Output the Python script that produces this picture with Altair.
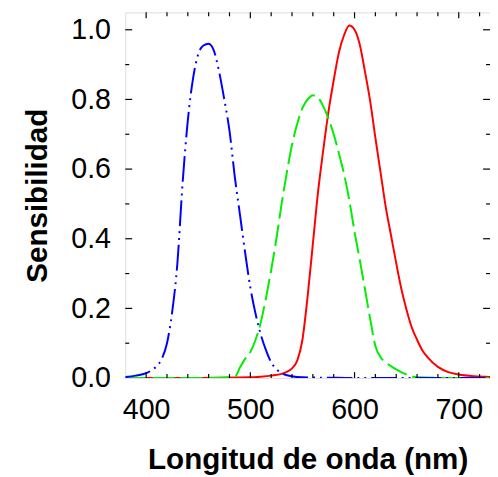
import altair as alt
import pandas as pd

# Blue (S cones) - dash-dot-dot
wl_blue = [380, 390, 400, 405, 410, 415, 420, 425, 430, 435, 440, 445, 450, 455, 460, 465,
           470, 475, 480, 485, 490, 495, 500, 505, 510, 515, 520, 525, 530, 540, 550, 575,
           600, 650, 700, 730]
s_blue = [0.003, 0.007, 0.014, 0.022, 0.034, 0.055, 0.10, 0.19, 0.33, 0.56, 0.74, 0.86,
          0.93, 0.955, 0.96, 0.94, 0.88, 0.80, 0.71, 0.58, 0.47, 0.36, 0.26, 0.185, 0.125,
          0.08, 0.045, 0.026, 0.014, 0.005, 0.002, 0.001, 0.0, 0.0, 0.0, 0.0]

# Green (M cones) - long dash
wl_green = [380, 450, 485, 490, 495, 500, 505, 510, 515, 520, 525, 530, 535, 540, 545, 550,
            555, 560, 565, 570, 575, 580, 585, 590, 595, 600, 605, 610, 615, 620, 625, 630,
            640, 650, 660, 700, 730]
s_green = [0.0, 0.0, 0.003, 0.03, 0.055, 0.075, 0.11, 0.16, 0.23, 0.31, 0.40, 0.50, 0.59,
           0.67, 0.73, 0.775, 0.80, 0.812, 0.805, 0.78, 0.745, 0.70, 0.645, 0.585, 0.51, 0.42,
           0.34, 0.255, 0.17, 0.092, 0.06, 0.045, 0.025, 0.01, 0.002, 0.0, 0.0]

# Red (L cones) - solid
wl_red = [380, 450, 500, 510, 520, 530, 535, 540, 545, 550, 555, 560, 565, 570, 575, 580,
          585, 590, 595, 600, 605, 610, 615, 620, 625, 630, 635, 640, 645, 650, 655, 660,
          665, 670, 680, 690, 700, 715, 730]
s_red = [0.0, 0.0, 0.002, 0.004, 0.007, 0.012, 0.018, 0.028, 0.05, 0.11, 0.235, 0.385,
         0.535, 0.655, 0.765, 0.855, 0.935, 0.985, 1.012, 1.0, 0.958, 0.88, 0.795, 0.69,
         0.59, 0.49, 0.41, 0.33, 0.255, 0.195, 0.145, 0.11, 0.08, 0.06, 0.032, 0.017, 0.01,
         0.005, 0.003]

x_labels = [400, 500, 600, 700]
x_minor = [420, 440, 460, 480, 520, 540, 560, 580, 620, 640, 660, 680, 720]
y_labels = [0.0, 0.2, 0.4, 0.6, 0.8, 1.0]
y_major = [0.2, 0.4, 0.6, 0.8, 1.0]
y_minor = [0.1, 0.3, 0.5, 0.7, 0.9]

W, H = 370, 371
FONT = "Liberation Sans"

xscale = alt.Scale(domain=[380, 730], nice=False, zero=False)
yscale = alt.Scale(domain=[0, 1.05], nice=False, zero=False)

xaxis = alt.Axis(values=x_labels, title="Longitud de onda (nm)", grid=False, ticks=False,
                 tickSize=0, domain=False, labelFontSize=29, labelFontWeight="normal",
                 labelPadding=18, titleFontSize=30, titleFontWeight="bold", titlePadding=21,
                 labelColor="black", titleColor="black", labelFont=FONT, titleFont=FONT)
yaxis = alt.Axis(values=y_labels, format=".1f", title="Sensibilidad", grid=False, ticks=False,
                 tickSize=0, domain=False, labelFontSize=29, labelFontWeight="normal",
                 labelPadding=15, titleFontSize=30, titleFontWeight="bold", titlePadding=19,
                 labelColor="black", titleColor="black", labelFont=FONT, titleFont=FONT)


def line(wl, s, color, dash, first=False):
    df = pd.DataFrame({"wl": wl, "s": s})
    kw = dict(strokeWidth=2, interpolate="monotone", clip=True, color=color)
    if dash:
        kw["strokeDash"] = dash
    return alt.Chart(df).mark_line(**kw).encode(
        x=alt.X("wl:Q", scale=xscale, axis=xaxis if first else alt.Axis(values=x_labels)),
        y=alt.Y("s:Q", scale=yscale, axis=yaxis if first else alt.Axis(values=y_labels)),
    )


def xticks(vals, y1, y2):
    return alt.Chart(pd.DataFrame({"wl": vals})).mark_rule(color="black", strokeWidth=1.2).encode(
        x=alt.X("wl:Q"), y=alt.value(y1), y2=alt.value(y2))


def yticks(vals, x1, x2):
    return alt.Chart(pd.DataFrame({"s": vals})).mark_rule(color="black", strokeWidth=1.2).encode(
        y=alt.Y("s:Q"), x=alt.value(x1), x2=alt.value(x2))


layers = [
    line(wl_red, s_red, "#ff0000", None, first=True),
    line(wl_green, s_green, "#00ee00", [22, 6]),
    line(wl_blue, s_blue, "#0000ff", [26, 5, 2, 5, 2, 5]),
    xticks(x_labels, H, H - 6), xticks(x_labels, 0, 6),
    xticks(x_minor, H, H - 4), xticks(x_minor, 0, 4),
    yticks(y_major, 0, 7), yticks(y_major, W, W - 7),
    yticks(y_minor, 0, 4), yticks(y_minor, W, W - 4),
]

chart = alt.layer(*layers).properties(
    width=W, height=H,
    autosize="none",
    padding={"left": 119, "top": 1, "right": 0, "bottom": 100},
).configure_view(stroke="#555555", strokeWidth=1.2).configure(font=FONT)

chart.save("out.html", embed_options={"renderer": "svg", "actions": False})
